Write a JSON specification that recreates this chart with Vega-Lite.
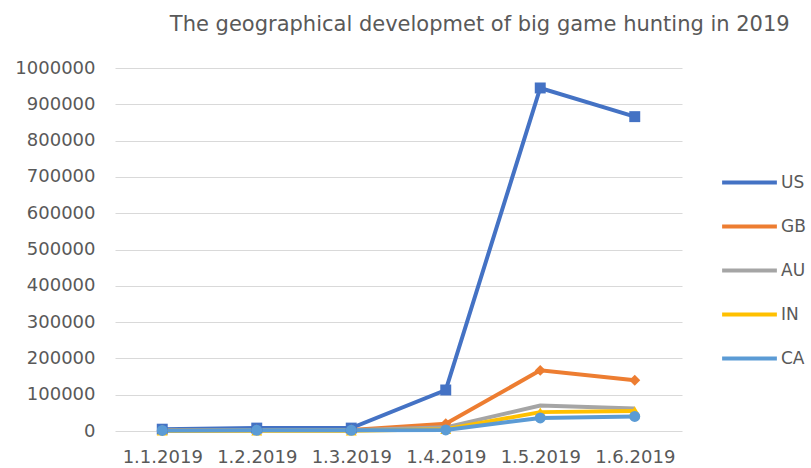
{
  "$schema": "https://vega.github.io/schema/vega-lite/v6.json",
  "width": 567,
  "height": 363,
  "autosize": {"type": "none"},
  "padding": {"left": 115, "top": 68, "right": 129, "bottom": 37},
  "background": "white",
  "title": {
    "text": "The geographical developmet of big game hunting in 2019",
    "font": "DejaVu Sans",
    "fontSize": 21,
    "fontWeight": "normal",
    "color": "#595959",
    "anchor": "start",
    "dx": 155,
    "offset": 24
  },
  "config": {
    "view": {"stroke": null},
    "font": "DejaVu Sans",
    "axis": {"labelColor": "#595959", "labelFontSize": 18, "labelFont": "DejaVu Sans"}
  },
  "data": {
    "values": [
      {"date": "1.1.2019", "country": "US", "value": 5000},
      {"date": "1.2.2019", "country": "US", "value": 8000},
      {"date": "1.3.2019", "country": "US", "value": 8000},
      {"date": "1.4.2019", "country": "US", "value": 113000},
      {"date": "1.5.2019", "country": "US", "value": 945000},
      {"date": "1.6.2019", "country": "US", "value": 866000},
      {"date": "1.1.2019", "country": "GB", "value": 2000},
      {"date": "1.2.2019", "country": "GB", "value": 3000},
      {"date": "1.3.2019", "country": "GB", "value": 3000},
      {"date": "1.4.2019", "country": "GB", "value": 20000},
      {"date": "1.5.2019", "country": "GB", "value": 167000},
      {"date": "1.6.2019", "country": "GB", "value": 140000},
      {"date": "1.1.2019", "country": "AU", "value": 1000},
      {"date": "1.2.2019", "country": "AU", "value": 2000},
      {"date": "1.3.2019", "country": "AU", "value": 2000},
      {"date": "1.4.2019", "country": "AU", "value": 10000},
      {"date": "1.5.2019", "country": "AU", "value": 70000},
      {"date": "1.6.2019", "country": "AU", "value": 62000},
      {"date": "1.1.2019", "country": "IN", "value": 500},
      {"date": "1.2.2019", "country": "IN", "value": 1000},
      {"date": "1.3.2019", "country": "IN", "value": 1000},
      {"date": "1.4.2019", "country": "IN", "value": 5000},
      {"date": "1.5.2019", "country": "IN", "value": 52000},
      {"date": "1.6.2019", "country": "IN", "value": 55000},
      {"date": "1.1.2019", "country": "CA", "value": 1500},
      {"date": "1.2.2019", "country": "CA", "value": 2000},
      {"date": "1.3.2019", "country": "CA", "value": 2000},
      {"date": "1.4.2019", "country": "CA", "value": 3000},
      {"date": "1.5.2019", "country": "CA", "value": 36000},
      {"date": "1.6.2019", "country": "CA", "value": 40000}
    ]
  },
  "encoding": {
    "x": {
      "field": "date",
      "type": "ordinal",
      "sort": null,
      "scale": {"type": "point", "padding": 0.5},
      "axis": {"title": null, "labelAngle": 0, "ticks": false, "domain": false, "grid": false, "labelPadding": 17, "labelOverlap": false}
    },
    "y": {
      "field": "value",
      "type": "quantitative",
      "scale": {"domain": [0, 1000000], "nice": false},
      "axis": {"title": null, "values": [0,100000,200000,300000,400000,500000,600000,700000,800000,900000,1000000], "format": "d", "ticks": false, "domain": false, "gridColor": "#d9d9d9", "gridWidth": 1, "labelPadding": 20, "labelOverlap": false}
    },
    "color": {
      "field": "country",
      "type": "nominal",
      "scale": {"domain": ["US", "GB", "AU", "IN", "CA"], "range": ["#4472C4", "#ED7D31", "#A5A5A5", "#FFC000", "#5B9BD5"]},
      "legend": {
        "title": null,
        "orient": "none",
        "legendX": 605,
        "legendY": 85,
        "symbolType": "stroke",
        "symbolSize": 3000,
        "symbolStrokeWidth": 4,
        "labelFontSize": 17,
        "labelColor": "#595959",
        "labelFont": "DejaVu Sans",
        "labelOffset": 2,
        "rowPadding": 6,
        "padding": 0
      }
    }
  },
  "layer": [
    {
      "mark": {"type": "line", "strokeWidth": 4}
    },
    {
      "transform": [{"filter": "datum.country !== 'AU'"}],
      "mark": {"type": "point", "filled": true, "opacity": 1},
      "encoding": {
        "shape": {
          "field": "country",
          "type": "nominal",
          "scale": {"domain": ["US", "GB", "IN", "CA"], "range": ["square", "diamond", "triangle-up", "circle"]},
          "legend": null
        },
        "size": {"value": 120}
      }
    }
  ]
}
